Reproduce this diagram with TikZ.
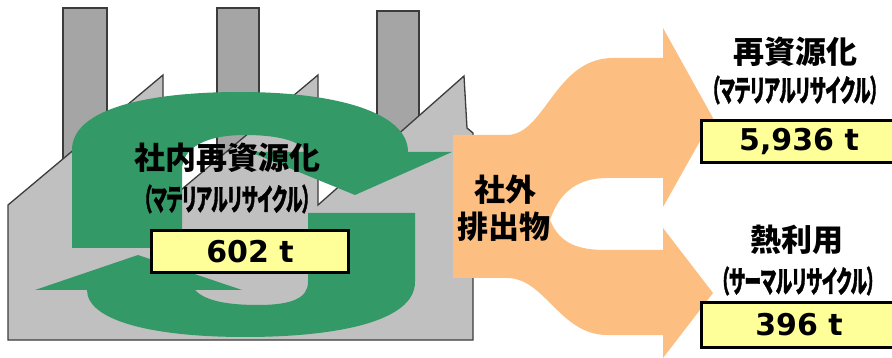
\documentclass[tikz,border=0pt]{standalone}
\usepackage{fontspec}
\newfontfamily\jpfont{Noto Sans CJK JP}
\newfontfamily\kanafont{Noto Sans CJK JP}[FakeStretch=0.55, FakeBold=1.2, RawFeature=+palt]
\newfontfamily\numfont{DejaVu Sans}
\definecolor{loopgreen}{RGB}{51,153,102}
\definecolor{flowpeach}{RGB}{252,191,129}
\definecolor{boxyellow}{RGB}{255,255,153}
\definecolor{plantgray}{RGB}{192,192,192}
\definecolor{stackgray}{RGB}{165,165,165}
\definecolor{edgegray}{RGB}{60,60,60}
\tikzset{
  jplabel/.style={font=\jpfont\bfseries\fontsize{31}{31}\selectfont, inner sep=0pt, anchor=center},
  kanalabel/.style={font=\kanafont\bfseries\fontsize{30}{30}\selectfont, inner sep=0pt, anchor=center},
  valuebox/.style={draw=black, line width=3pt, fill=boxyellow,
    font=\numfont\bfseries\fontsize{30}{30}\selectfont, inner sep=0pt, anchor=center},
  stack/.style={fill=stackgray, draw=edgegray, line width=1.5pt},
  plant/.style={fill=plantgray, draw=edgegray, line width=1.3pt, line join=miter},
}
\begin{document}
\begin{tikzpicture}[x=1pt,y=-1pt]
  \useasboundingbox (0,0) rectangle (892,358);
  \clip (0,0) rectangle (892,358);
  \fill[white] (0,0) rectangle (892,358);

  % chimneys behind the sawtooth roof
  \draw[stack] (63,8) rectangle (107,200);
  \draw[stack] (217,8) rectangle (259,200);
  \draw[stack] (377,11) rectangle (419,200);

  % factory building with sawtooth roof
  \draw[plant] (8,340) -- (8,205) -- (163,75) -- (163,205) -- (318,75) -- (318,205)
    -- (464,76) -- (467,128) -- (473,133) -- (473,340) -- cycle;

  % internal recycling loop: upper arrow
  \fill[loopgreen] (72,248) -- (72,150) .. controls (72,108) and (150,92) .. (240,92)
    .. controls (335,92) and (408,112) .. (408,152) -- (452,152) -- (355,195) -- (250,152)
    -- (306,152) .. controls (300,140) and (275,135) .. (245,135)
    .. controls (205,135) and (182,148) .. (182,170) -- (182,248) -- cycle;
  % internal recycling loop: lower arrow
  \fill[loopgreen] (308,213) -- (415,213) -- (415,282) .. controls (415,322) and (335,337) .. (245,337)
    .. controls (150,337) and (87,320) .. (87,290) -- (35,290) -- (138,255) -- (242,290)
    -- (195,290) .. controls (205,301) and (228,305) .. (258,305)
    .. controls (292,305) and (308,298) .. (308,282) -- cycle;

  % outgoing waste flow splitting in two
  \fill[flowpeach] (453,135) -- (507,135) .. controls (545,135) and (555,58) .. (613,58)
    -- (663,58) -- (663,28) -- (713,118) -- (663,207) -- (663,178) -- (607,178)
    .. controls (580,178) and (560,190) .. (550,220)
    .. controls (560,245) and (580,250) .. (607,250) -- (663,250) -- (663,228)
    -- (713,293) -- (663,358) -- (663,335) -- (607,335)
    .. controls (560,335) and (545,278) .. (507,278) -- (453,278) -- cycle;

  % labels on the loop
  \node[jplabel] (inhouse) at (227,158) {社内再資源化};
  \node[kanalabel] (inhousesub) at (227,199) {（マテリアルリサイクル）};
  \node[valuebox, minimum width=197pt, minimum height=42pt] (inhouseval) at (250,252) {602 t};

  % label on the flow
  \node[jplabel] (out1) at (505,190) {社外};
  \node[jplabel] (out2) at (504,227) {排出物};

  % destinations
  \node[jplabel] (mat) at (795,52) {再資源化};
  \node[kanalabel] (matsub) at (795,90) {（マテリアルリサイクル）};
  \node[valuebox, minimum width=196pt, minimum height=42pt] (matval) at (799,142) {5,936 t};

  \node[jplabel] (heat) at (797,240) {熱利用};
  \node[kanalabel] (heatsub) at (798,281) {（サーマルリサイクル）};
  \node[valuebox, minimum width=196pt, minimum height=45pt] (heatval) at (799,324.5) {396 t};
\end{tikzpicture}
\end{document}
